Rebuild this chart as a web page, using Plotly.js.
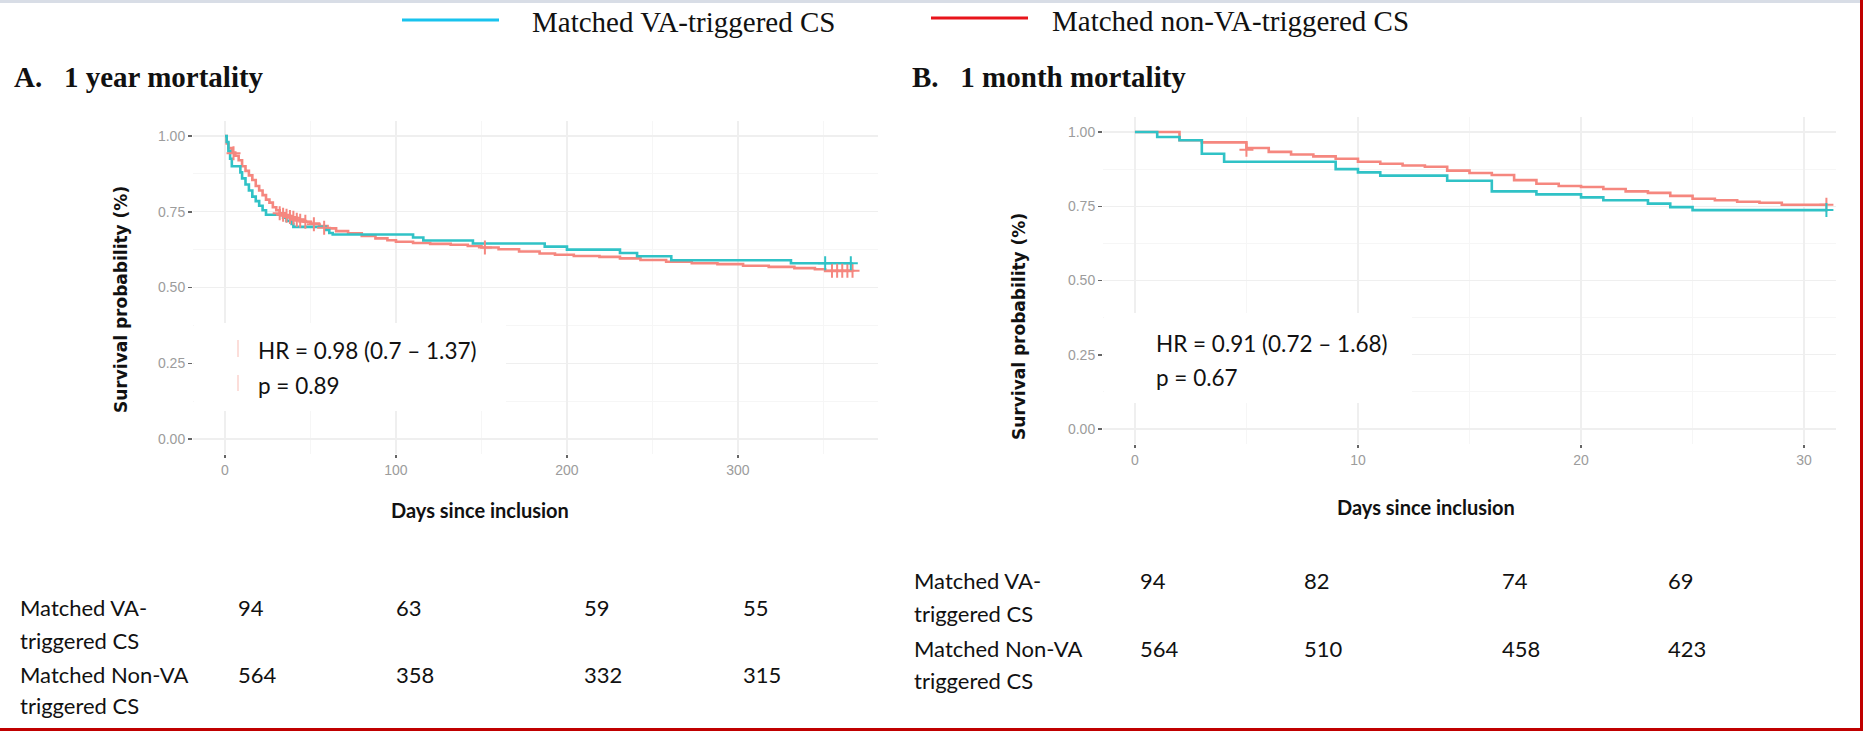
<!DOCTYPE html>
<html><head><meta charset="utf-8">
<script src="https://cdn.plot.ly/plotly-3.0.1.min.js"></script>
<style>html,body{margin:0;padding:0;background:#fff;overflow:hidden}#chart{width:1863px;height:731px}</style>
</head><body><div id="chart"></div>
<script>
// ---------- DATA ----------
const seriesNames = ["Matched VA-triggered CS", "Matched non-VA-triggered CS"];

// Panel A: 1 year mortality (days 0-365)
const daysA_va  = [0, 1, 2, 3, 4, 9, 10, 12, 14, 16, 18, 20, 22, 24, 34, 36, 39, 40, 59, 61, 63, 110, 116, 145, 187, 200, 231, 241, 261, 331, 367];
const survA_va  = [1.0, 0.98, 0.95, 0.925, 0.90, 0.88, 0.86, 0.84, 0.82, 0.80, 0.785, 0.77, 0.755, 0.74, 0.73, 0.72, 0.71, 0.70, 0.69, 0.68, 0.675, 0.665, 0.655, 0.645, 0.635, 0.625, 0.614, 0.603, 0.59, 0.58, 0.58];
const censA_va_days = [351, 366];
const censA_va_surv = [0.58, 0.58];

const daysA_non = [0, 1, 2, 4, 6, 8, 10, 12, 14, 16, 18, 20, 22, 24, 26, 28, 30, 32, 35, 38, 42, 46, 50, 55, 60, 65, 72, 80, 88, 95, 100, 110, 120, 132, 142, 150, 160, 172, 184, 193, 204, 219, 231, 243, 258, 273, 288, 303, 318, 333, 345, 351, 367];
const survA_non = [1.0, 0.975, 0.96, 0.945, 0.935, 0.92, 0.90, 0.885, 0.87, 0.855, 0.835, 0.82, 0.805, 0.79, 0.78, 0.765, 0.755, 0.745, 0.737, 0.73, 0.724, 0.717, 0.711, 0.703, 0.695, 0.686, 0.679, 0.67, 0.662, 0.656, 0.651, 0.647, 0.644, 0.641, 0.637, 0.632, 0.626, 0.619, 0.612, 0.608, 0.604, 0.601, 0.596, 0.591, 0.585, 0.58, 0.577, 0.572, 0.568, 0.564, 0.56, 0.555, 0.555];
const censA_non_days = [5, 32, 34, 36, 38, 40, 42, 44, 47, 52, 58, 152, 355, 358, 361, 364, 367];
const censA_non_surv = [0.943, 0.745, 0.74, 0.737, 0.733, 0.73, 0.724, 0.72, 0.717, 0.709, 0.697, 0.632, 0.555, 0.555, 0.555, 0.555, 0.555];

// Panel B: 1 month mortality (days 0-31)
const daysB_va  = [0, 1, 2, 3, 4, 9, 10, 11, 14, 16, 18, 20, 21, 23, 24, 25, 31];
const survB_va  = [1.0, 0.983, 0.972, 0.927, 0.90, 0.875, 0.864, 0.853, 0.836, 0.80, 0.79, 0.78, 0.77, 0.759, 0.747, 0.737, 0.737];
const censB_va_days = [31];
const censB_va_surv = [0.737];

const daysB_non = [0, 2, 3, 5, 6, 7, 8, 9, 10, 11, 12, 13, 14, 15, 16, 17, 18, 19, 20, 21, 22, 23, 24, 25, 26, 27, 28, 29, 31];
const survB_non = [1.0, 0.972, 0.965, 0.946, 0.933, 0.924, 0.918, 0.91, 0.90, 0.893, 0.887, 0.883, 0.87, 0.862, 0.855, 0.838, 0.826, 0.818, 0.815, 0.808, 0.80, 0.795, 0.785, 0.775, 0.77, 0.765, 0.762, 0.755, 0.755];
const censB_non_days = [5, 31];
const censB_non_surv = [0.94, 0.755];

// Axis ticks
const ticksA = [0, 100, 200, 300];
const ticksB = [0, 10, 20, 30];
const ticksY = [0, 0.25, 0.5, 0.75, 1.0];

// Number at risk tables
const riskRowLabels = [["Matched VA-", "triggered CS"], ["Matched Non-VA", "triggered CS"]];
const riskA_va  = [94, 63, 59, 55];
const riskA_non = [564, 358, 332, 315];
const riskB_va  = [94, 82, 74, 69];
const riskB_non = [564, 510, 458, 423];

const statsA = ["HR = 0.98 (0.7 \u2013 1.37)", "p = 0.89"];
const statsB = ["HR = 0.91 (0.72 \u2013 1.68)", "p = 0.67"];
const panelTitles = ["A.\u00a0\u00a0 1 year mortality", "B.\u00a0\u00a0 1 month mortality"];
const xTitle = "Days since inclusion";
const yTitle = "Survival probability (%)";

// ---------- LAYOUT HELPERS ----------
const W = 1863, H = 731;
const px = x => x / W;
const py = y => 1 - y / H;

const C_VA = "#30c2c6", C_NON = "#f5877f";
const LEG_VA = "#19c3ee", LEG_NON = "#e8141b";

function curve(x, y, color, xa, ya) {
  return {x: x, y: y, type: "scatter", mode: "lines", line: {shape: "hv", color: color, width: 2.6},
          xaxis: xa, yaxis: ya, showlegend: false, hoverinfo: "skip"};
}
function cens(x, y, color, xa, ya) {
  return {x: x, y: y, type: "scatter", mode: "markers",
          marker: {symbol: "cross-thin", size: 10, color: color, line: {color: color, width: 2}},
          xaxis: xa, yaxis: ya, showlegend: false, hoverinfo: "skip"};
}

const traces = [
  curve(daysA_non, survA_non, C_NON, "x", "y"),
  curve(daysA_va, survA_va, C_VA, "x", "y"),
  cens(censA_non_days, censA_non_surv, C_NON, "x", "y"),
  cens(censA_va_days, censA_va_surv, C_VA, "x", "y"),
  curve(daysB_non, survB_non, C_NON, "x2", "y2"),
  curve(daysB_va, survB_va, C_VA, "x2", "y2"),
  cens(censB_non_days, censB_non_surv, C_NON, "x2", "y2"),
  cens(censB_va_days, censB_va_surv, C_VA, "x2", "y2")
];

const tickFont = {family: "Liberation Sans, Arial, sans-serif", size: 14, color: "#9c9c9c"};
const GRID = "#efefef", MINOR = "#f6f6f6";
function xAx(domain, range, tv, minorDt) {
  return {domain: domain, range: range, tickvals: tv, ticks: "outside", ticklen: 3, tickwidth: 2, tickcolor: "#666",
          showline: false, zeroline: false, showgrid: true, gridcolor: GRID, gridwidth: 1.2,
          minor: {dtick: minorDt, tick0: 0, showgrid: true, gridcolor: MINOR, gridwidth: 1, ticks: ""},
          tickfont: tickFont, fixedrange: true};
}
function yAx(domain, range, anchor) {
  return {domain: domain, range: range, tickvals: ticksY, tickformat: ".2f", ticks: "outside", ticklen: 4, tickwidth: 1.5,
          tickcolor: "#666", showline: false, zeroline: false, showgrid: true, gridcolor: GRID, gridwidth: 1.2,
          minor: {dtick: 0.125, tick0: 0, showgrid: true, gridcolor: MINOR, gridwidth: 1, ticks: ""},
          tickfont: tickFont, anchor: anchor, fixedrange: true};
}

const annotations = [];
function ann(text, x, y, opts) {
  annotations.push(Object.assign({text: text, x: px(x), y: py(y), xref: "paper", yref: "paper",
    showarrow: false, xanchor: "left", yanchor: "middle"}, opts));
}
const serif = "Liberation Serif, Times New Roman, serif";
const sans = "Lato, Noto Sans, sans-serif";

// legend
ann(seriesNames[0], 530, 22, {font: {family: serif, size: 29, color: "#111"}});
ann(seriesNames[1], 1050, 21, {font: {family: serif, size: 29, color: "#111"}});
// panel titles
ann("<b>" + panelTitles[0] + "</b>", 12, 77, {font: {family: serif, size: 29, color: "#111"}});
ann("<b>" + panelTitles[1] + "</b>", 910, 77, {font: {family: serif, size: 29, color: "#111"}});
// axis titles
ann("<b>" + yTitle + "</b>", 121, 300, {xanchor: "center", textangle: -90, font: {family: "DejaVu Sans, sans-serif", size: 17, color: "#111"}});
ann("<b>" + yTitle + "</b>", 1019, 327, {xanchor: "center", textangle: -90, font: {family: "DejaVu Sans, sans-serif", size: 17, color: "#111"}});
ann("<b>" + xTitle + "</b>", 480, 510, {xanchor: "center", font: {family: sans, size: 20, color: "#111"}});
ann("<b>" + xTitle + "</b>", 1426, 507, {xanchor: "center", font: {family: sans, size: 20, color: "#111"}});
// stats
const sFont = {family: sans, size: 22.5, color: "#111"};
ann(statsA[0], 256, 351, {font: sFont});
ann(statsA[1], 256, 385, {font: sFont});
ann(statsB[0], 1154, 343, {font: sFont});
ann(statsB[1], 1154, 377, {font: sFont});
// risk tables
const tFont = {family: sans, size: 22, color: "#111"};
const rowsA = [607, 640, 674, 705], rowsB = [580, 613, 648, 680];
const colsA = [236, 394, 582, 741], colsB = [1138, 1302, 1500, 1666];
ann(riskRowLabels[0][0], 18, rowsA[0], {font: tFont});
ann(riskRowLabels[0][1], 18, rowsA[1], {font: tFont});
ann(riskRowLabels[1][0], 18, rowsA[2], {font: tFont});
ann(riskRowLabels[1][1], 18, rowsA[3], {font: tFont});
ann(riskRowLabels[0][0], 912, rowsB[0], {font: tFont});
ann(riskRowLabels[0][1], 912, rowsB[1], {font: tFont});
ann(riskRowLabels[1][0], 912, rowsB[2], {font: tFont});
ann(riskRowLabels[1][1], 912, rowsB[3], {font: tFont});
riskA_va.forEach((v, i) => ann(String(v), colsA[i], rowsA[0], {font: tFont}));
riskA_non.forEach((v, i) => ann(String(v), colsA[i], rowsA[2], {font: tFont}));
riskB_va.forEach((v, i) => ann(String(v), colsB[i], rowsB[0], {font: tFont}));
riskB_non.forEach((v, i) => ann(String(v), colsB[i], rowsB[2], {font: tFont}));

function rect(x0, y0, x1, y1, fill, layer) {
  return {type: "rect", xref: "paper", yref: "paper", x0: px(x0), x1: px(x1), y0: py(y1), y1: py(y0),
          fillcolor: fill, line: {width: 0}, layer: layer || "above"};
}
function seg(x0, y0, x1, y1, color, w) {
  return {type: "line", xref: "paper", yref: "paper", x0: px(x0), x1: px(x1), y0: py(y0), y1: py(y1),
          line: {color: color, width: w}, layer: "above"};
}
const shapes = [
  // white stat boxes covering grid
  rect(194, 323, 506, 411, "#ffffff"),
  rect(1104, 313, 1412, 403, "#ffffff"),
  seg(238, 340, 238, 357, "#fbd3ce", 1.5),
  seg(238, 375, 238, 391, "#fbd3ce", 1.5),
  // legend keys
  seg(402, 20, 499, 20, LEG_VA, 3),
  seg(931, 18, 1028, 18, LEG_NON, 3),
  // frame
  rect(0, 0, 1863, 3, "#d8dde6"),
  rect(0, 728, 1863, 731, "#c00000"),
  rect(1860, 0, 1863, 731, "#c00000")
];

const layout = {
  width: W, height: H, margin: {l: 0, r: 0, t: 0, b: 0}, paper_bgcolor: "#fff", plot_bgcolor: "#fff",
  showlegend: false,
  xaxis: Object.assign(xAx([px(193), px(878)], [-18.7, 381.9], ticksA, 50), {anchor: "y"}),
  yaxis: yAx([py(454), py(121)], [-0.0495, 1.0495], "x"),
  xaxis2: Object.assign(xAx([px(1103), px(1836)], [-1.43, 31.43], ticksB, 5), {anchor: "y2"}),
  yaxis2: yAx([py(444), py(117)], [-0.0505, 1.0505], "x2"),
  annotations: annotations, shapes: shapes
};
Plotly.newPlot("chart", traces, layout, {staticPlot: true, displayModeBar: false});
</script>
</body></html>
